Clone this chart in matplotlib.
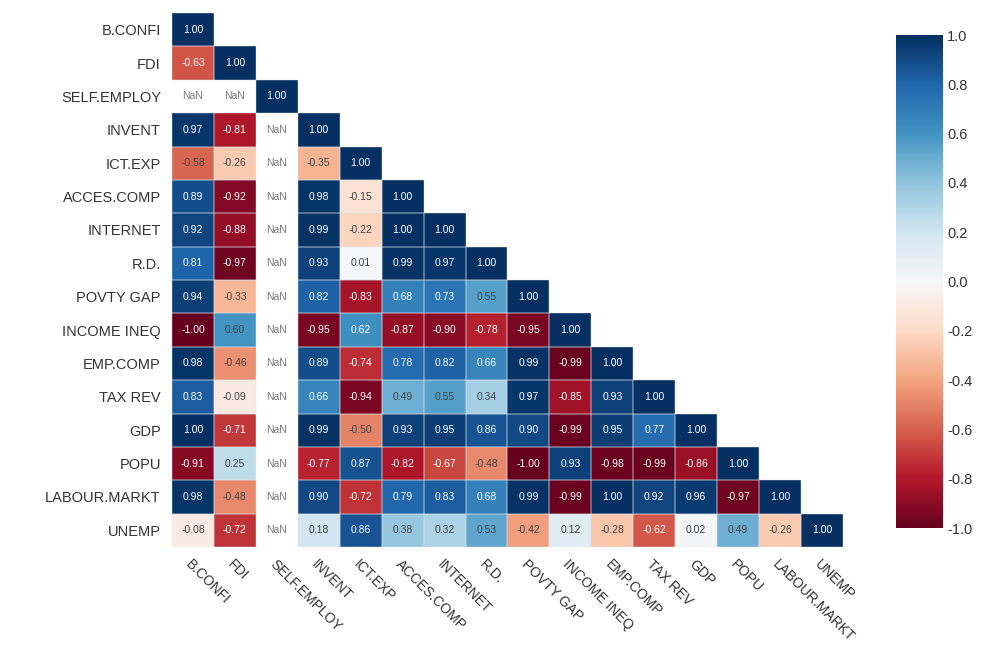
import numpy as np
import matplotlib
matplotlib.use("Agg")
from matplotlib import pyplot as plt

plt.rcParams['font.family'] = ['Liberation Sans', 'DejaVu Sans']

labels = ["B.CONFI", "FDI", "SELF.EMPLOY", "INVENT", "ICT.EXP", "ACCES.COMP",
          "INTERNET", "R.D.", "POVTY GAP", "INCOME INEQ", "EMP.COMP", "TAX REV",
          "GDP", "POPU", "LABOUR.MARKT", "UNEMP"]

nan = np.nan
# lower triangle of the correlation matrix, row by row
rows = [
    [1.00],
    [-0.63, 1.00],
    [nan, nan, 1.00],
    [0.97, -0.81, nan, 1.00],
    [-0.58, -0.26, nan, -0.35, 1.00],
    [0.89, -0.92, nan, 0.98, -0.15, 1.00],
    [0.92, -0.88, nan, 0.99, -0.22, 1.00, 1.00],
    [0.81, -0.97, nan, 0.93, 0.01, 0.99, 0.97, 1.00],
    [0.94, -0.33, nan, 0.82, -0.83, 0.68, 0.73, 0.55, 1.00],
    [-1.00, 0.60, nan, -0.95, 0.62, -0.87, -0.90, -0.78, -0.95, 1.00],
    [0.98, -0.46, nan, 0.89, -0.74, 0.78, 0.82, 0.66, 0.99, -0.99, 1.00],
    [0.83, -0.09, nan, 0.66, -0.94, 0.49, 0.55, 0.34, 0.97, -0.85, 0.93, 1.00],
    [1.00, -0.71, nan, 0.99, -0.50, 0.93, 0.95, 0.86, 0.90, -0.99, 0.95, 0.77, 1.00],
    [-0.91, 0.25, nan, -0.77, 0.87, -0.82, -0.67, -0.48, -1.00, 0.93, -0.98, -0.99, -0.86, 1.00],
    [0.98, -0.48, nan, 0.90, -0.72, 0.79, 0.83, 0.68, 0.99, -0.99, 1.00, 0.92, 0.96, -0.97, 1.00],
    [-0.08, -0.72, nan, 0.18, 0.86, 0.38, 0.32, 0.53, -0.42, 0.12, -0.28, -0.62, 0.02, 0.49, -0.26, 1.00],
]

n = len(labels)
mat = np.full((n, n), np.nan)
for i, r in enumerate(rows):
    mat[i, :len(r)] = r

fig = plt.figure(figsize=(9.85, 6.53), dpi=100)
ax = fig.add_axes([0.1746, 0.1623, 0.6812, 0.8177])

cmap = plt.get_cmap("RdBu")
mesh = ax.pcolormesh(np.ma.masked_invalid(mat), cmap=cmap, vmin=-1, vmax=1)
ax.set_xlim(0, n)
ax.set_ylim(n, 0)

# faint separators only inside the filled triangle
for i in range(n):
    for j in range(i + 1):
        if not np.isnan(mat[i, j]):
            ax.add_patch(plt.Rectangle((j, i), 1, 1, fill=False,
                                       edgecolor="#dfe6ee", linewidth=0.3))

for i in range(n):
    for j in range(i + 1):
        v = mat[i, j]
        if np.isnan(v):
            ax.text(j + 0.5, i + 0.5, "NaN", ha="center", va="center",
                    fontsize=7.5, color="#777777")
        else:
            col = "white" if abs(v) > 0.6 else "#444444"
            ax.text(j + 0.5, i + 0.5, "%.2f" % v, ha="center", va="center",
                    fontsize=7.5, color=col)

ax.set_xticks(np.arange(n) + 0.5)
ax.set_yticks(np.arange(n) + 0.5)
ax.set_xticklabels(labels, rotation=-45, ha="left", va="top",
                   rotation_mode="anchor", fontsize=10, color="#333333")
ax.set_yticklabels(labels, fontsize=10.5, color="#333333")
ax.tick_params(axis="y", length=0, pad=8)
ax.tick_params(axis="x", length=0, pad=7)
for s in ax.spines.values():
    s.set_visible(False)

ticks = np.round(np.arange(-1, 1.01, 0.2), 1)
cax = fig.add_axes([0.9097, 0.1914, 0.0477, 0.7549])
cb = fig.colorbar(mesh, cax=cax, ticks=ticks)
cb.outline.set_visible(False)
cb.ax.set_yticklabels(["%.1f" % (t + 0.0) for t in ticks])
cb.ax.tick_params(length=0, labelsize=10.5, labelcolor="#333333", pad=3)

fig.savefig("out.png", dpi=100)
